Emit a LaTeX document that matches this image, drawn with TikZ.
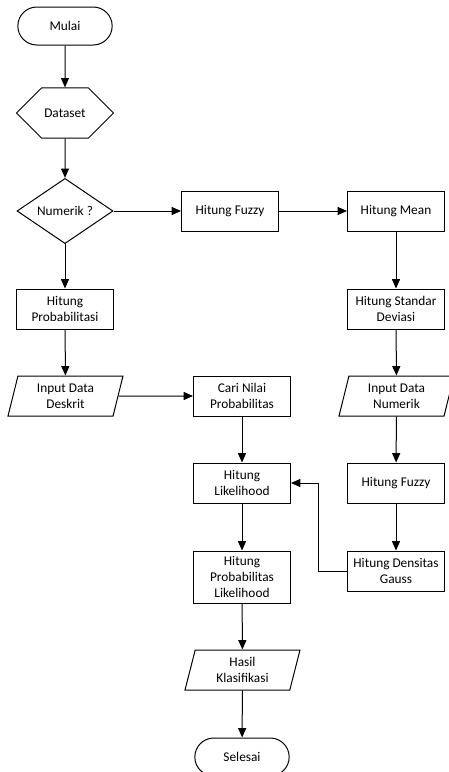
\documentclass[tikz,border=0pt]{standalone}
\usepackage{fontspec}
\setmainfont{Carlito}
\usetikzlibrary{shapes.geometric,shapes.misc,arrows.meta}
\tikzset{
  base/.style={draw, line width=0.75pt, align=center, inner sep=1pt, font=\fontsize{10}{12}\selectfont},
  proses/.style={base, rectangle, minimum width=72.75pt, minimum height=30pt},
  terminal/.style={base, rounded rectangle, minimum width=72.75pt, minimum height=28.5pt},
  persiapan/.style={base, chamfered rectangle, chamfered rectangle xsep=18.75pt, chamfered rectangle ysep=14.6pt, minimum width=72.75pt, minimum height=29.25pt},
  keputusan/.style={base, diamond, minimum width=72pt, minimum height=43.5pt, inner sep=0pt},
  masukan/.style={base, trapezium, trapezium left angle=70, trapezium right angle=110, trapezium stretches body, minimum width=86.25pt, minimum height=30pt},
  panah/.style={line width=0.75pt, -{Triangle[length=7pt,width=6pt]}}
}
\begin{document}
\begin{tikzpicture}[x=0.75pt, y=-0.75pt]
  \useasboundingbox (0,0) rectangle (449,772);
  % kolom kiri
  \node[terminal] (mulai) at (65,26) {Mulai};
  \node[persiapan] (dataset) at (65,113) {Dataset};
  \node[keputusan] (numerik) at (65,211) {Numerik ?};
  \node[proses] (probA) at (65,309) {Hitung\\Probabilitasi};
  \node[masukan] (deskrit) at (65.5,396) {Input Data\\Deskrit};
  % kolom tengah
  \node[proses] (fuzzyA) at (230,211) {Hitung Fuzzy};
  \node[proses] (cari) at (242,396) {Cari Nilai\\Probabilitas};
  \node[proses] (likeli) at (242,483) {Hitung\\Likelihood};
  \node[proses, minimum height=39pt] (problik) at (242,577) {Hitung\\Probabilitas\\Likelihood};
  \node[masukan] (hasil) at (242.5,670) {Hasil\\Klasifikasi};
  \node[terminal] (selesai) at (242,757) {Selesai};
  % kolom kanan
  \node[proses] (mean) at (396,211) {Hitung Mean};
  \node[proses] (stdev) at (396,309) {Hitung Standar\\Deviasi};
  \node[masukan] (numin) at (396.5,396) {Input Data\\Numerik};
  \node[proses] (fuzzyB) at (396,483) {Hitung Fuzzy};
  \node[proses] (gauss) at (396,571) {Hitung Densitas\\Gauss};

  \draw[panah] (mulai) -- (dataset);
  \draw[panah] (dataset) -- (numerik);
  \draw[panah] (numerik) -- (fuzzyA);
  \draw[panah] (numerik) -- (probA);
  \draw[panah] (fuzzyA) -- (mean);
  \draw[panah] (mean) -- (stdev);
  \draw[panah] (stdev) -- (numin);
  \draw[panah] (probA) -- (deskrit);
  \draw[panah] (deskrit) -- (cari);
  \draw[panah] (cari) -- (likeli);
  \draw[panah] (numin) -- (fuzzyB);
  \draw[panah] (fuzzyB) -- (gauss);
  \draw[panah] (gauss.west) -- ++(-29,0) |- (likeli.east);
  \draw[panah] (likeli) -- (problik);
  \draw[panah] (problik) -- (hasil);
  \draw[panah] (hasil) -- (selesai);
\end{tikzpicture}
\end{document}
